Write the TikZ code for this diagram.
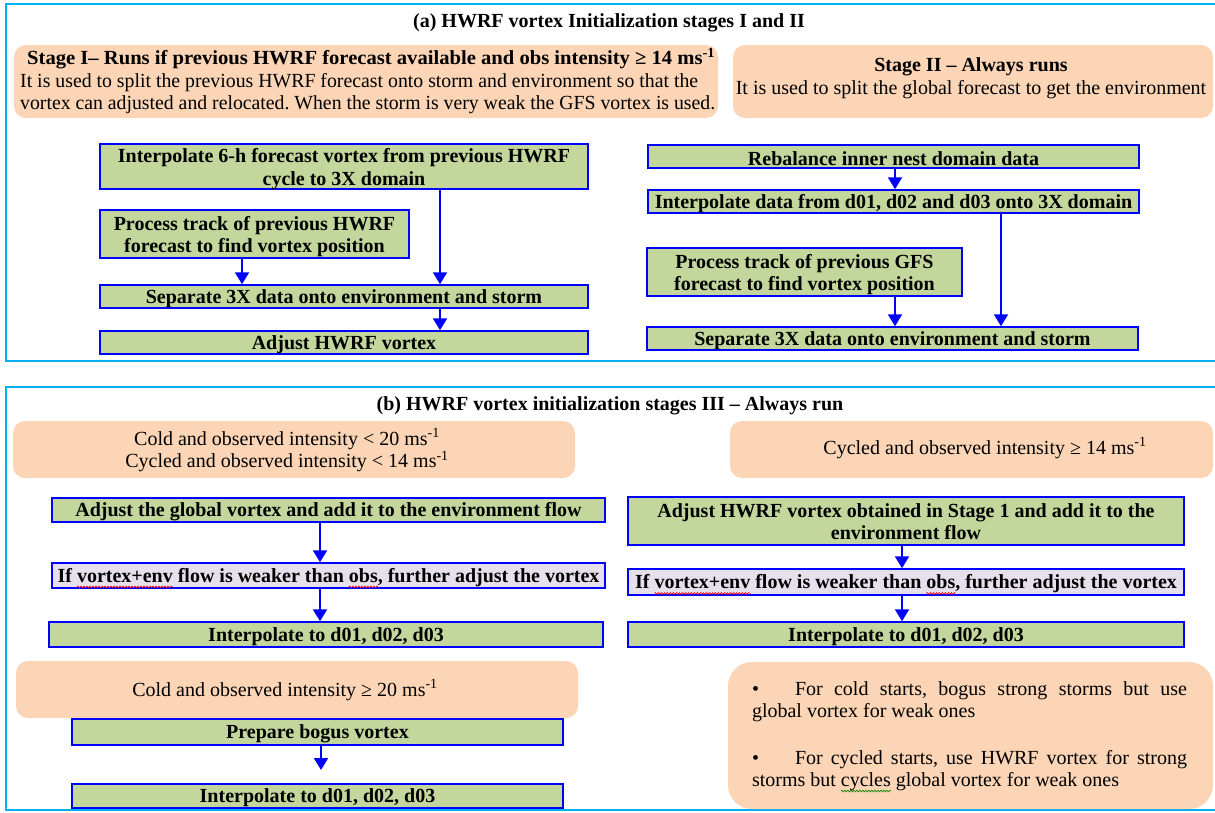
\documentclass[tikz,border=0pt]{standalone}
\usepackage{fontspec}
\setmainfont{Liberation Serif}
\usetikzlibrary{arrows.meta,decorations.pathmorphing}
\frenchspacing
\definecolor{boxgreen}{HTML}{C3D69B}
\definecolor{boxblue}{HTML}{0000FF}
\definecolor{boxlav}{HTML}{E6E0EC}
\definecolor{peach}{HTML}{FBD5B5}
\definecolor{framecyan}{HTML}{00B0F0}
\newcommand\bigf{\fontsize{20}{22.5}\selectfont}
\newcommand\msunit{ms\textsuperscript{-1}}
\newcommand\bt[1]{\raisebox{-2pt}[\height][\depth]{#1}}
\newcommand\tl[2]{\raisebox{-3pt}[\height][\depth]{\begin{tabular}{@{}c@{}}#1\\#2\end{tabular}}}
\newsavebox\wavebox
\newlength\wavelen
\newcommand\wavyu[2]{\sbox\wavebox{#2}\setlength\wavelen{\wd\wavebox}%
  \tikz[overlay,x=1pt,y=1pt,baseline=0pt]\draw[#1,line width=0.6pt,decorate,decoration={snake,amplitude=0.9pt,segment length=3pt}] (0pt,-4.5pt) -- (\wavelen,-4.5pt);%
  \usebox\wavebox}
\tikzset{
  gbox/.style={draw=boxblue, fill=boxgreen, line width=1.5pt, inner sep=0pt, align=center, font=\bigf\bfseries},
  lbox/.style={gbox, fill=boxlav},
  pbox/.style={fill=peach, rounded corners=12pt, inner sep=0pt},
  ptext/.style={font=\bigf, align=center, inner sep=0pt},
  ttext/.style={font=\bigf\bfseries, inner sep=0pt},
  arr/.style={draw=boxblue, line width=2pt, -{Triangle[width=14pt,length=12pt]}},
  frame/.style={draw=framecyan, line width=2.5pt},
}
\begin{document}
\begin{tikzpicture}[x=1pt,y=-1pt]
\useasboundingbox (0,0) rectangle (1215,812);
\fill[white] (0,0) rectangle (1215,812);
% frames
\draw[frame] (1230,4) -- (6,4) -- (6,361) -- (1230,361);
\draw[frame] (1230,387) -- (6,387) -- (6,810) -- (1230,810);
% ---------- part (a)
\node[ttext] (ta) at (609,23) {(a) HWRF vortex Initialization stages I and II};
\node[pbox, minimum width=704pt, minimum height=73pt] (s1) at (366,81.5) {};
\node[font=\bigf, align=left, inner sep=0pt, anchor=west] (s1t) at (20,81)
  {\hspace{7pt}\resizebox{688pt}{\height}{\textbf{Stage I– Runs if previous HWRF forecast available and obs intensity ≥ 14 \msunit}}\\
   \resizebox{678pt}{\height}{It is used to split the previous HWRF forecast onto storm and environment so that the}\\
   \resizebox{695pt}{\height}{vortex can adjusted and relocated. When the storm is very weak the GFS vortex is used.}};
\node[pbox, minimum width=480pt, minimum height=73pt] (s2) at (973,81.5) {};
\node[ptext] (s2t) at (971,78) {\textbf{Stage II – Always runs}\\It is used to split the global forecast to get the environment};

\node[gbox, minimum width=488pt, minimum height=43pt] (A1) at (344,166.5) {\tl{Interpolate 6-h forecast vortex from previous HWRF}{cycle to 3X domain}};
\node[gbox, minimum width=309pt, minimum height=48pt] (A2) at (254.5,234) {\tl{Process track of previous HWRF}{forecast to find vortex position}};
\node[gbox, minimum width=488pt, minimum height=23pt] (A3) at (344,296.5) {\bt{Separate 3X data onto environment and storm}};
\node[gbox, minimum width=488pt, minimum height=23pt] (A4) at (344,342.5) {\bt{Adjust HWRF vortex}};
\coordinate (xa) at (440,0);
\coordinate (xb) at (242,0);
\draw[arr] (A1.south -| xa) -- (A3.north -| xa);
\draw[arr] (A2.south -| xb) -- (A3.north -| xb);
\draw[arr] (A3.south -| xa) -- (A4.north -| xa);

\node[gbox, minimum width=491pt, minimum height=23pt] (B1) at (893.5,156.5) {\bt{Rebalance inner nest domain data}};
\node[gbox, minimum width=491pt, minimum height=23pt] (B2) at (893.5,201.5) {\bt{Interpolate data from d01, d02 and d03 onto 3X domain}};
\node[gbox, minimum width=315pt, minimum height=48pt] (B3) at (804.5,272) {\tl{Process track of previous GFS}{forecast to find vortex position}};
\node[gbox, minimum width=491pt, minimum height=23pt] (B4) at (892.5,338.5) {\bt{Separate 3X data onto environment and storm}};
\coordinate (xc) at (895,0);
\coordinate (xd) at (1001,0);
\draw[arr] (B1.south -| xc) -- (B2.north -| xc);
\draw[arr] (B2.south -| xd) -- (B4.north -| xd);
\draw[arr] (B3.south -| xc) -- (B4.north -| xc);

% ---------- part (b)
\node[ttext] (tb) at (610,406) {(b) HWRF vortex initialization stages III – Always run};
\node[pbox, minimum width=562pt, minimum height=57pt] (C0) at (294,449.5) {};
\node[ptext] (C0t) at (287,450.5) {Cold and observed intensity < 20 \msunit\\Cycled and observed intensity < 14 \msunit};
\node[gbox, minimum width=553pt, minimum height=24pt] (C1) at (328.5,510) {\bt{Adjust the global vortex and add it to the environment flow}};
\node[lbox, minimum width=553pt, minimum height=25pt] (C2) at (328.5,575.5) {\bt{If \wavyu{red}{vortex+env} flow is weaker than \wavyu{red}{obs}, further adjust the vortex}};
\node[gbox, minimum width=554pt, minimum height=25pt] (C3) at (326,634.5) {\bt{Interpolate to d01, d02, d03}};
\coordinate (xe) at (320,0);
\draw[arr] (C1.south -| xe) -- (C2.north -| xe);
\draw[arr] (C2.south -| xe) -- (C3.north -| xe);

\node[pbox, minimum width=483pt, minimum height=57pt] (D0) at (971.5,449.5) {};
\node[ptext] (D0t) at (985,448) {Cycled and observed intensity ≥ 14 \msunit};
\node[gbox, minimum width=556pt, minimum height=48pt] (D1) at (906,521) {\tl{Adjust HWRF vortex obtained in Stage 1 and add it to the}{environment flow}};
\node[lbox, minimum width=556pt, minimum height=26pt] (D2) at (906,582) {\bt{If \wavyu{red}{vortex+env} flow is weaker than \wavyu{red}{obs}, further adjust the vortex}};
\node[gbox, minimum width=556pt, minimum height=25pt] (D3) at (906,634.5) {\bt{Interpolate to d01, d02, d03}};
\coordinate (xf) at (902,0);
\draw[arr] (D1.south -| xf) -- (D2.north -| xf);
\draw[arr] (D2.south -| xf) -- (D3.north -| xf);

\node[pbox, minimum width=562pt, minimum height=57pt] (E0) at (297,689.5) {};
\node[ptext] (E0t) at (285,690) {Cold and observed intensity ≥ 20 \msunit};
\node[gbox, minimum width=491pt, minimum height=26pt] (E1) at (317.5,732) {\bt{Prepare bogus vortex}};
\node[gbox, minimum width=491pt, minimum height=24pt] (E2) at (317.5,796) {\bt{Interpolate to d01, d02, d03}};
\coordinate (ee) at (321,770);
\draw[arr] (E1.south -| ee) -- (ee);

\node[pbox, rounded corners=24pt, minimum width=485pt, minimum height=147pt] (F0) at (970.5,735.5) {};
\node[font=\bigf, text width=435pt, align=justify, inner sep=0pt] (F0t) at (969.5,736)
  {\textbullet\hspace{36pt}For cold starts, bogus strong storms but use\linebreak global vortex for weak ones\par\vspace{24pt}%
   \textbullet\hspace{36pt}For cycled starts, use HWRF vortex for strong\linebreak storms but \wavyu{green!50!black}{cycles} global vortex for weak ones};
\end{tikzpicture}
\end{document}
